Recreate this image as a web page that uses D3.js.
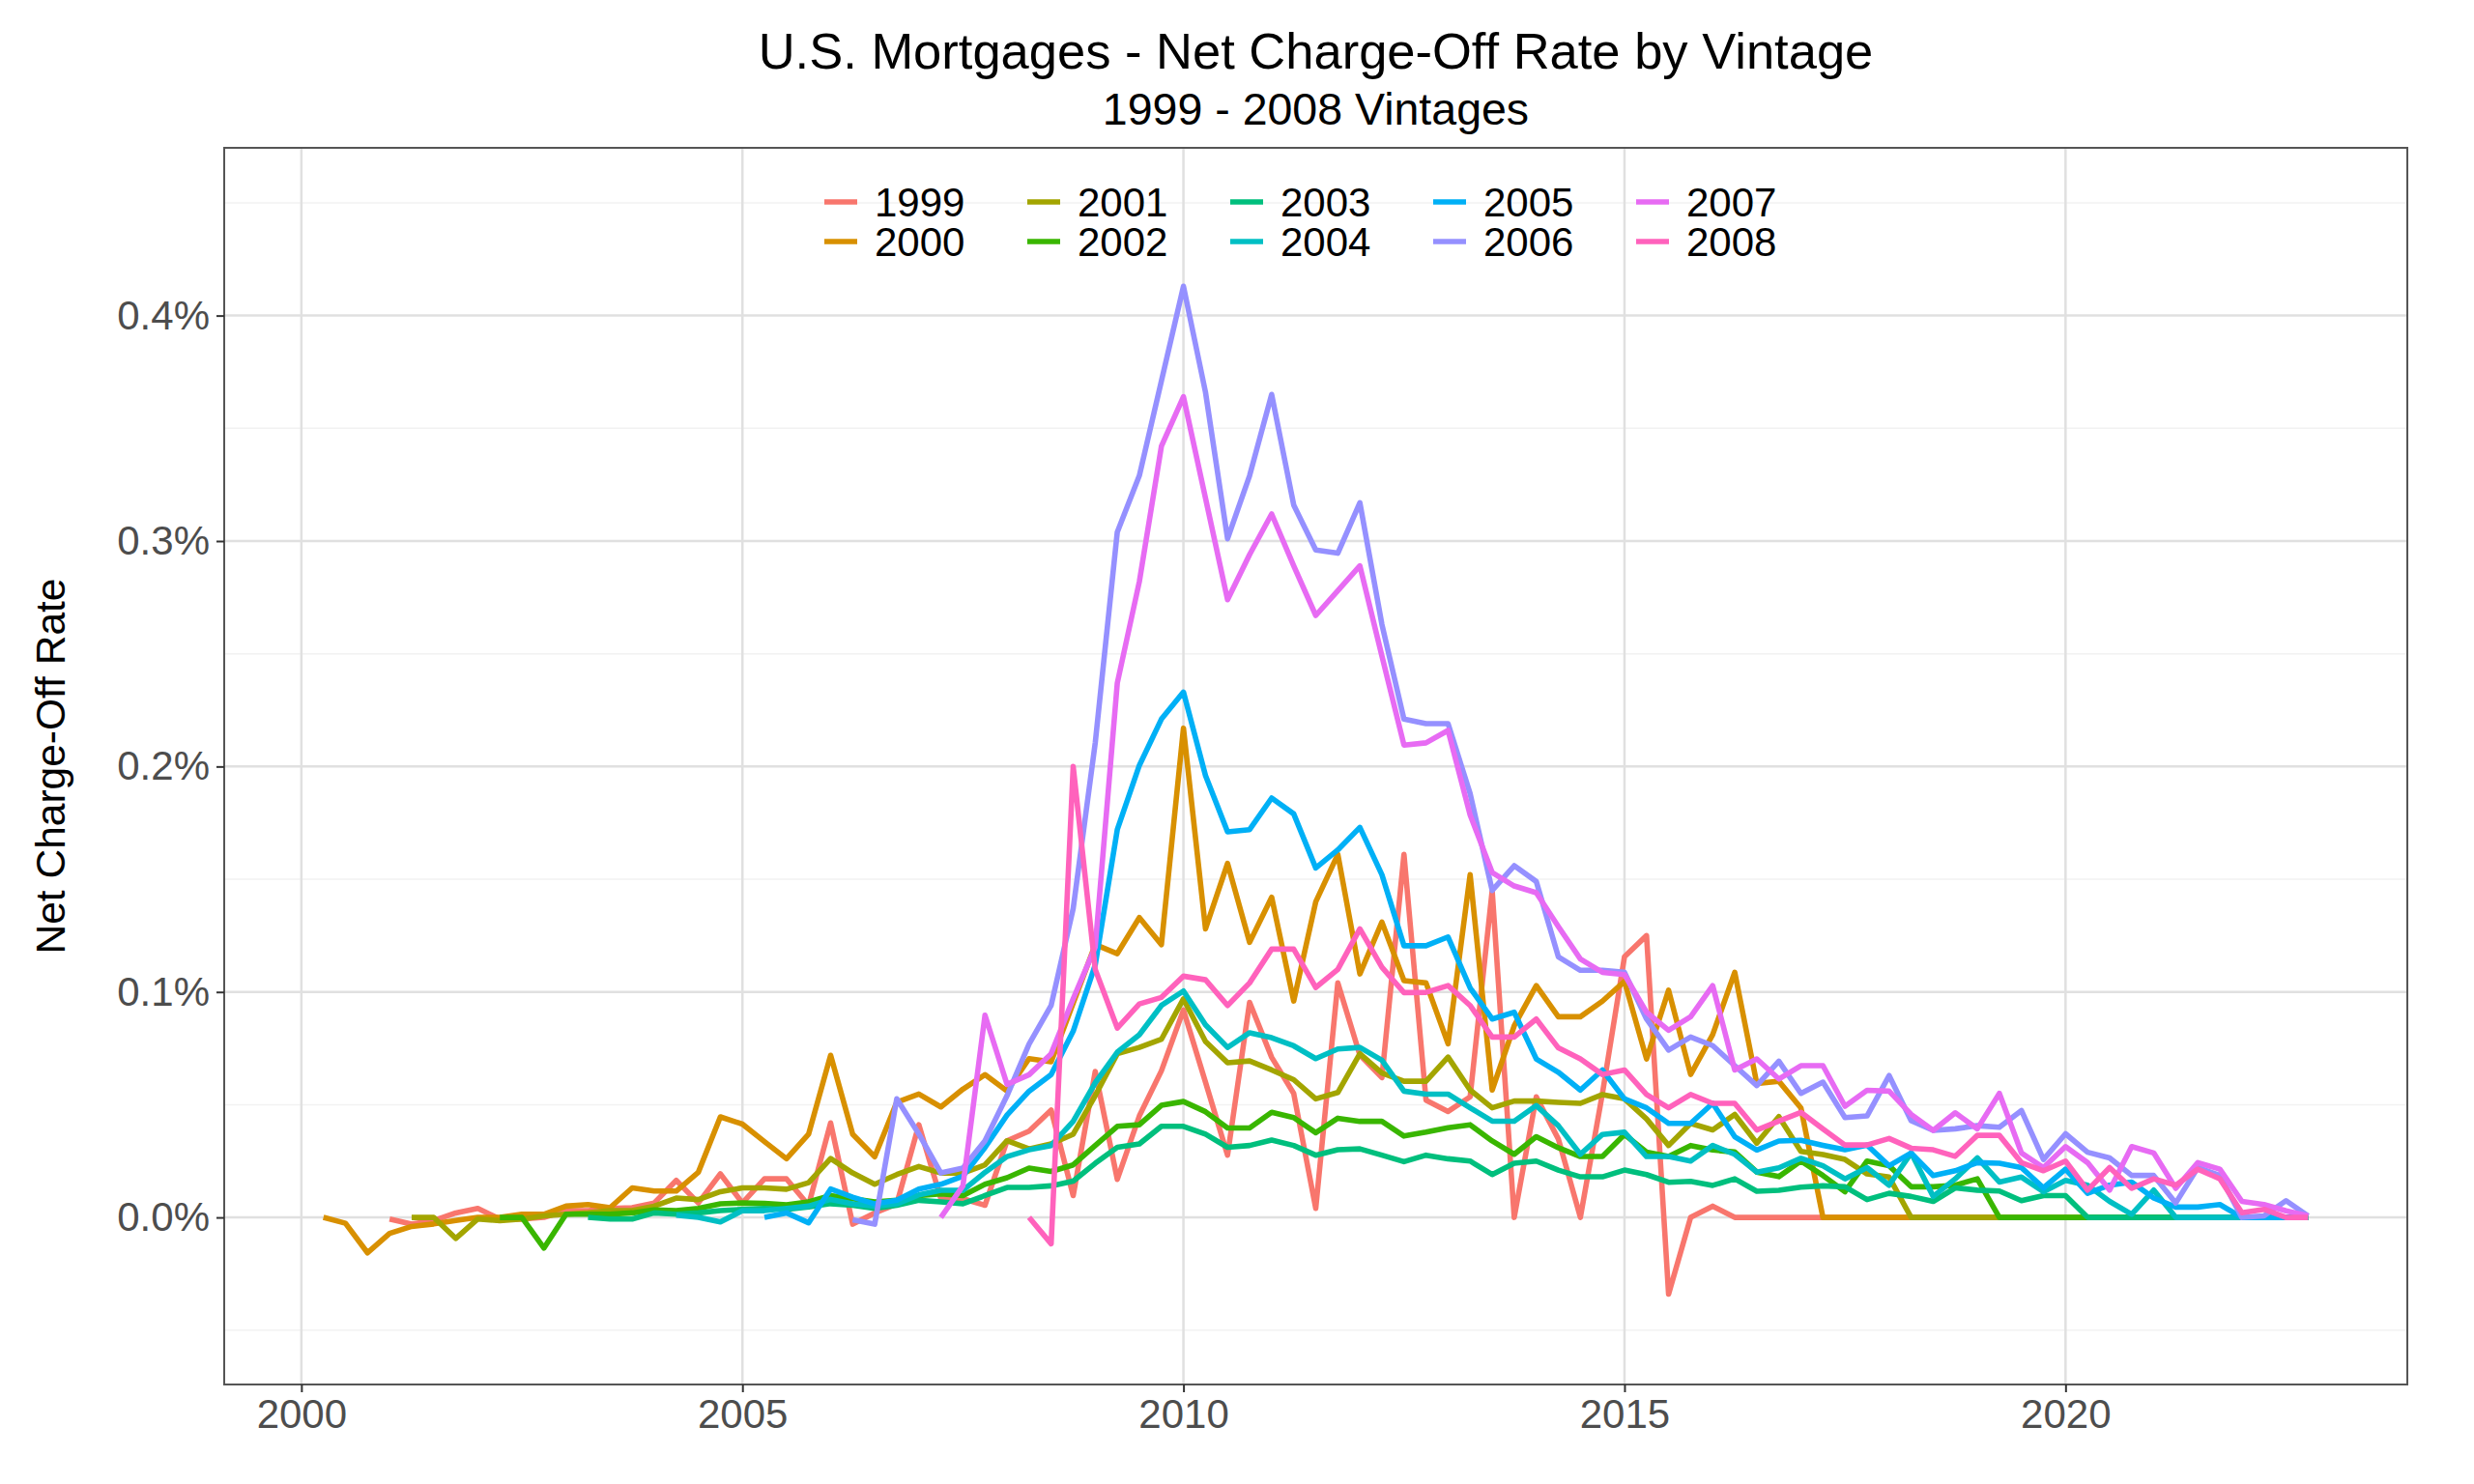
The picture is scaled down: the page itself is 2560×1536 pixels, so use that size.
<!DOCTYPE html>
<html>
<head>
<meta charset="utf-8">
<script src="https://cdn.jsdelivr.net/npm/d3@7"></script>
<style>
  body { margin: 0; background: #fff; }
  text { font-family: "Liberation Sans", Arial, Helvetica, sans-serif; }
</style>
</head>
<body>
<svg id="chart" width="2560" height="1536"></svg>
<script>

// vintages, colours and the quarter each series starts in
const vintages = ["1999","2000","2001","2002","2003","2004","2005","2006","2007","2008"];
const colors = ["#F8766D","#D89000","#A3A500","#39B600","#00BF7D","#00BFC4","#00B0F6","#9590FF","#E76BF3","#FF62BC"];
const starts = [2001, 2000.25, 2001.25, 2002.25, 2003.25, 2004.25, 2005.25, 2006.25, 2007.25, 2008.25];

// quarterly net charge-off rate (%) for each vintage, up to 2022 Q4
const v1999 = [
  -0.0007, -0.003, -0.0014, 0.002,
  0.004, -0.0007, -0.0007, 0,
  0.003, 0.003, 0.004, 0.0043,
  0.0064, 0.0164, 0.0064, 0.0193,
  0.0064, 0.0171, 0.0171, 0.0054,
  0.0419, -0.003, 0.002, 0.006,
  0.0411, 0.0083, 0.0083, 0.0054,
  0.034, 0.0383, 0.0476, 0.0097,
  0.0647, 0.0169, 0.045, 0.065,
  0.092, 0.06, 0.0276, 0.0954,
  0.071, 0.055, 0.004, 0.104,
  0.072, 0.062, 0.161, 0.052,
  0.047, 0.0535, 0.145, 0,
  0.0535, 0.0348, 0, 0.055,
  0.1156, 0.125, -0.034, 0,
  0.005, 0, 0, 0,
  0, 0, 0, 0,
  0, 0, 0, 0,
  0, 0, 0, 0,
  0, 0, 0, 0,
  0, 0, 0, 0,
  0, 0, 0, 0
];
const v2000 = [
  0, -0.0026, -0.0157,
  -0.0071, -0.004, -0.0029, -0.0014,
  0, 0, 0.0014, 0.0014,
  0.005, 0.0057, 0.0043, 0.0131,
  0.0117, 0.0117, 0.02, 0.0446,
  0.0414, 0.0336, 0.026, 0.0369,
  0.0719, 0.0369, 0.0269, 0.0511,
  0.0547, 0.049, 0.0569, 0.0633,
  0.0561, 0.0704, 0.069, 0.095,
  0.121, 0.117, 0.133, 0.121,
  0.217, 0.128, 0.157, 0.122,
  0.142, 0.096, 0.14, 0.161,
  0.108, 0.131, 0.105, 0.104,
  0.077, 0.152, 0.0565, 0.085,
  0.1028, 0.089, 0.089, 0.0959,
  0.1047, 0.0703, 0.1008, 0.0634,
  0.0811, 0.1087, 0.0594, 0.0604,
  0.0486, 0, 0, 0,
  0, 0, 0, 0,
  0, 0, 0, 0,
  0, 0, 0, 0,
  0, 0, 0, 0,
  0, 0, 0, 0
];
const v2001 = [
  0, 0, -0.0093,
  -0.0007, -0.0014, -0.0007, 0.0007,
  0.0014, 0.002, 0.003, 0.003,
  0.005, 0.0086, 0.0079, 0.0114,
  0.0131, 0.0131, 0.0125, 0.0154,
  0.0261, 0.0197, 0.0147, 0.019,
  0.0226, 0.0197, 0.0197, 0.0233,
  0.034, 0.0304, 0.0326, 0.0369,
  0.054, 0.0726, 0.0754, 0.079,
  0.0969, 0.078, 0.0686, 0.0694,
  0.0654, 0.0611, 0.0526, 0.0554,
  0.0726, 0.064, 0.0604, 0.0604,
  0.0711, 0.0565, 0.0486, 0.0516,
  0.0516, 0.051, 0.0506, 0.0545,
  0.0526, 0.0437, 0.0319, 0.0417,
  0.0388, 0.0457, 0.0329, 0.0447,
  0.0293, 0.0279, 0.0257, 0.0193,
  0.0179, 0, 0, 0,
  0, 0, 0, 0,
  0, 0, 0, 0,
  0, 0, 0, 0,
  0, 0, 0, 0
];
const v2002 = [
  0, 0, -0.0136,
  0.0014, 0.0014, 0.0014, 0.002,
  0.0033, 0.003, 0.004, 0.006,
  0.0064, 0.0062, 0.0056, 0.0069,
  0.0097, 0.0083, 0.0069, 0.0076,
  0.0097, 0.0104, 0.0097, 0.0147,
  0.0176, 0.0219, 0.0204, 0.0233,
  0.0319, 0.0404, 0.0411, 0.0497,
  0.0514, 0.0469, 0.0397, 0.0397,
  0.0466, 0.0443, 0.0376, 0.044,
  0.0426, 0.0426, 0.0361, 0.0378,
  0.0398, 0.0411, 0.0339, 0.028,
  0.0358, 0.0309, 0.027, 0.027,
  0.0368, 0.029, 0.027, 0.0319,
  0.0299, 0.029, 0.0201, 0.0181,
  0.025, 0.0186, 0.0114, 0.025,
  0.0229, 0.0136, 0.0136, 0.0143,
  0.0171, 0, 0, 0,
  0, 0, 0, 0,
  0, 0, 0, 0,
  0, 0, 0, 0
];
const v2003 = [
  0, -0.0007, -0.0007,
  0.002, 0.0014, 0.002, 0.003,
  0.0036, 0.004, 0.0036, 0.0047,
  0.0061, 0.0054, 0.004, 0.0054,
  0.0076, 0.0069, 0.0061, 0.0097,
  0.0133, 0.0133, 0.014, 0.0161,
  0.024, 0.0311, 0.0326, 0.0404,
  0.0404, 0.0369, 0.0311, 0.0319,
  0.0343, 0.0319, 0.0276, 0.03,
  0.0304, 0.0276, 0.0247, 0.0276,
  0.026, 0.025, 0.019, 0.024,
  0.025, 0.021, 0.018, 0.018,
  0.021, 0.019, 0.0156, 0.016,
  0.0142, 0.0171, 0.0116, 0.012,
  0.0134, 0.014, 0.0136, 0.0079,
  0.0107, 0.0093, 0.0071, 0.0131,
  0.0121, 0.0117, 0.0074, 0.0097,
  0.0097, 0, 0, 0,
  0, 0, 0, 0,
  0, 0, 0, 0
];
const v2004 = [
  0.001, 0, -0.002,
  0.003, 0.003, 0.004, 0.005,
  0.008, 0.006, 0.005, 0.006,
  0.01, 0.012, 0.012, 0.02,
  0.027, 0.03, 0.0319, 0.0426,
  0.0597, 0.0733, 0.081, 0.094,
  0.1004, 0.0854, 0.0754, 0.0819,
  0.0797, 0.0761, 0.0704, 0.0747,
  0.0754, 0.0697, 0.056, 0.0547,
  0.0547, 0.0486, 0.0427, 0.0427,
  0.0496, 0.0407, 0.028, 0.0368,
  0.0378, 0.027, 0.027, 0.025,
  0.0319, 0.028, 0.0201, 0.022,
  0.0262, 0.0229, 0.0171, 0.0221,
  0.0143, 0.0286, 0.0093, 0.0171,
  0.0264, 0.0157, 0.0179, 0.0114,
  0.0164, 0.0143, 0.0071, 0.0014,
  0.0121, 0, 0, 0,
  0, 0, 0, 0
];
const v2005 = [
  0, 0.002, -0.0024,
  0.0126, 0.009, 0.006, 0.0076,
  0.0126, 0.0147, 0.0183, 0.031,
  0.0454, 0.056, 0.0633, 0.0826,
  0.112, 0.172, 0.2005, 0.221,
  0.233, 0.196, 0.171, 0.172,
  0.186, 0.179, 0.155, 0.163,
  0.173, 0.152, 0.1205, 0.1205,
  0.1244, 0.1018, 0.088, 0.091,
  0.0703, 0.0644, 0.0565, 0.0654,
  0.0526, 0.0486, 0.0417, 0.0417,
  0.0506, 0.0358, 0.0299, 0.0339,
  0.0342, 0.032, 0.03, 0.0321,
  0.0229, 0.0286, 0.0186, 0.0207,
  0.0243, 0.024, 0.0221, 0.0131,
  0.0214, 0.0107, 0.0143, 0.0157,
  0.0086, 0.0046, 0.0046, 0.0057,
  0, 0, 0, 0
];
const v2006 = [
  -0.001, -0.003, 0.0526,
  0.037, 0.0197, 0.0219, 0.034,
  0.054, 0.0769, 0.094, 0.137,
  0.2105, 0.304, 0.329, 0.371,
  0.413, 0.366, 0.301, 0.329,
  0.365, 0.316, 0.296, 0.2946,
  0.317, 0.263, 0.221, 0.219,
  0.219, 0.188, 0.145, 0.156,
  0.149, 0.1156, 0.1096, 0.1096,
  0.1087, 0.088, 0.0742, 0.08,
  0.0762, 0.0673, 0.0585, 0.0693,
  0.055, 0.06, 0.0443, 0.045,
  0.0629, 0.0429, 0.0386, 0.0393,
  0.0407, 0.04, 0.0474, 0.0257,
  0.0371, 0.0289, 0.0264, 0.0186,
  0.0186, 0.0064, 0.0221, 0.0186,
  0, 0.0007, 0.0074, 0.0007
];
const v2007 = [
  0, 0.014, 0.0897,
  0.059, 0.0633, 0.0726, 0.097,
  0.12, 0.237, 0.282, 0.342,
  0.364, 0.319, 0.274, 0.294,
  0.312, 0.289, 0.267, 0.278,
  0.289, 0.249, 0.2095, 0.2105,
  0.216, 0.1785, 0.153, 0.147,
  0.144, 0.129, 0.1146, 0.1087,
  0.1077, 0.091, 0.083, 0.089,
  0.1028, 0.0654, 0.0703, 0.0614,
  0.0673, 0.0673, 0.0493, 0.0564,
  0.056, 0.0457, 0.0386, 0.0464,
  0.0393, 0.055, 0.0286, 0.0221,
  0.0314, 0.0243, 0.0121, 0.0314,
  0.0286, 0.0129, 0.0243, 0.0214,
  0.0071, 0.0057, 0.0029, 0.0007
];
const v2008 = [
  0, -0.0117, 0.2,
  0.11, 0.084, 0.0947, 0.0976,
  0.107, 0.1054, 0.094, 0.104,
  0.119, 0.119, 0.102, 0.11,
  0.128, 0.111, 0.0997, 0.0998,
  0.1028, 0.094, 0.08, 0.08,
  0.088, 0.0752, 0.0703, 0.0634,
  0.0654, 0.0545, 0.0486, 0.0545,
  0.0506, 0.0506, 0.0388, 0.0427,
  0.0466, 0.0392, 0.0321, 0.0321,
  0.035, 0.0307, 0.03, 0.0271,
  0.0364, 0.0364, 0.0243, 0.0207,
  0.025, 0.0121, 0.0221, 0.0129,
  0.0171, 0.0143, 0.0214, 0.0171,
  0.0021, 0.0036, 0, 0
];

const xTicks = [2000, 2005, 2010, 2015, 2020];
const yTicks = [0, 0.1, 0.2, 0.3, 0.4];
const yMinor = [-0.05, 0.05, 0.15, 0.25, 0.35, 0.45];

const seriesValues = [v1999, v2000, v2001, v2002, v2003, v2004, v2005, v2006, v2007, v2008];

const series = vintages.map((name, i) => ({
  name: name,
  color: colors[i],
  points: seriesValues[i].map((v, j) => ({ t: starts[i] + j * 0.25, v: v }))
}));

const svg = d3.select("#chart");

// panel box
const panel = { left: 232, top: 153, right: 2491, bottom: 1433 };

const x = d3.scaleLinear()
    .domain([1999.125, 2023.875])
    .range([panel.left, panel.right]);

const y = d3.scaleLinear()
    .domain([-0.0741, 0.4744])
    .range([panel.bottom, panel.top]);

svg.append("rect")
    .attr("width", 2560).attr("height", 1536)
    .attr("fill", "#fff");

// grid
const grid = svg.append("g");

grid.selectAll(".ymin")
    .data(yMinor)
    .enter().append("line")
    .attr("x1", panel.left).attr("x2", panel.right)
    .attr("y1", d => y(d)).attr("y2", d => y(d))
    .attr("stroke", "#F2F2F2")
    .attr("stroke-width", 1.5);

grid.selectAll(".ymaj")
    .data(yTicks)
    .enter().append("line")
    .attr("x1", panel.left).attr("x2", panel.right)
    .attr("y1", d => y(d)).attr("y2", d => y(d))
    .attr("stroke", "#E0E0E0")
    .attr("stroke-width", 2.5);

grid.selectAll(".xmaj")
    .data(xTicks)
    .enter().append("line")
    .attr("y1", panel.top).attr("y2", panel.bottom)
    .attr("x1", d => x(d)).attr("x2", d => x(d))
    .attr("stroke", "#E0E0E0")
    .attr("stroke-width", 2.5);

// series lines
svg.append("defs").append("clipPath").attr("id", "clip")
  .append("rect")
    .attr("x", panel.left).attr("y", panel.top)
    .attr("width", panel.right - panel.left)
    .attr("height", panel.bottom - panel.top);

const line = d3.line()
    .x(d => x(d.t))
    .y(d => y(d.v));

svg.append("g")
    .attr("clip-path", "url(#clip)")
  .selectAll("path")
    .data(series)
    .enter().append("path")
    .attr("d", d => line(d.points))
    .attr("fill", "none")
    .attr("stroke", d => d.color)
    .attr("stroke-width", 5.6)
    .attr("stroke-linejoin", "round");

// panel border
svg.append("rect")
    .attr("x", panel.left).attr("y", panel.top)
    .attr("width", panel.right - panel.left)
    .attr("height", panel.bottom - panel.top)
    .attr("fill", "none")
    .attr("stroke", "#555")
    .attr("stroke-width", 2);

// axes
const xAxis = d3.axisBottom(x)
    .tickValues(xTicks)
    .tickFormat(d3.format("d"))
    .tickSize(8)
    .tickPadding(7);

const yAxis = d3.axisLeft(y)
    .tickValues(yTicks)
    .tickFormat(d => d3.format(".1f")(d) + "%")
    .tickSize(8)
    .tickPadding(7);

const gx = svg.append("g")
    .attr("transform", "translate(0," + panel.bottom + ")")
    .call(xAxis);

const gy = svg.append("g")
    .attr("transform", "translate(" + panel.left + ",0)")
    .call(yAxis);

[gx, gy].forEach(g => {
  g.select(".domain").remove();
  g.selectAll(".tick line").attr("stroke", "#333").attr("stroke-width", 2);
  g.selectAll(".tick text")
      .attr("fill", "#4D4D4D")
      .style("font-size", "42px")
      .style("font-family", "'Liberation Sans', Arial, sans-serif");
});

// titles
svg.append("text")
    .attr("x", (panel.left + panel.right) / 2)
    .attr("y", 71)
    .attr("text-anchor", "middle")
    .style("font-size", "52.5px")
    .attr("fill", "#000")
    .text("U.S. Mortgages - Net Charge-Off Rate by Vintage");

svg.append("text")
    .attr("x", (panel.left + panel.right) / 2)
    .attr("y", 129)
    .attr("text-anchor", "middle")
    .style("font-size", "46.5px")
    .attr("fill", "#000")
    .text("1999 - 2008 Vintages");

svg.append("text")
    .attr("transform", "translate(67," + ((panel.top + panel.bottom) / 2) + ") rotate(-90)")
    .attr("text-anchor", "middle")
    .style("font-size", "42.5px")
    .attr("fill", "#000")
    .text("Net Charge-Off Rate");

// legend, 2 rows x 5 columns, filled by column
const legend = svg.append("g");

const item = legend.selectAll("g")
    .data(series)
    .enter().append("g")
    .attr("transform", (d, i) => "translate(" + (853 + Math.floor(i / 2) * 210) + "," + (209 + (i % 2) * 41) + ")");

item.append("line")
    .attr("x1", 0).attr("x2", 34)
    .attr("y1", 0).attr("y2", 0)
    .attr("stroke", d => d.color)
    .attr("stroke-width", 5.6);

item.append("text")
    .attr("x", 52)
    .attr("y", 0)
    .attr("dy", "0.36em")
    .style("font-size", "42px")
    .attr("fill", "#000")
    .text(d => d.name);

</script>
</body>
</html>
